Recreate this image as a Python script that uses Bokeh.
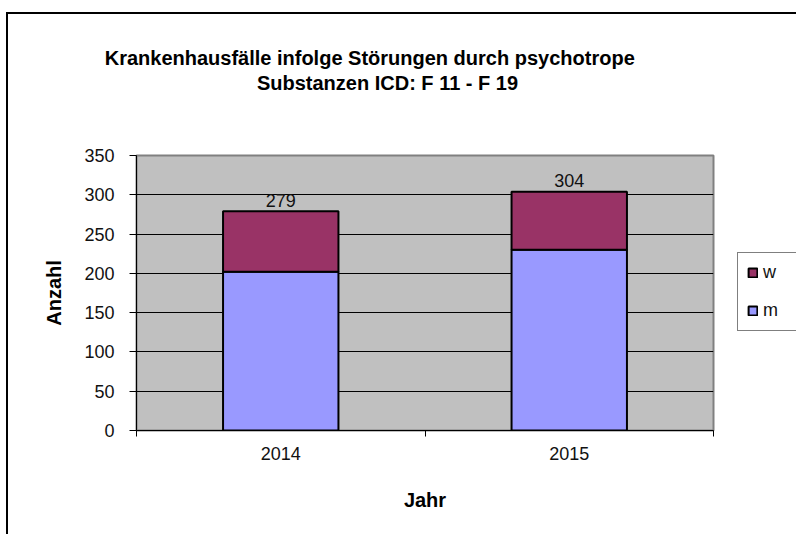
from bokeh.plotting import figure
from bokeh.models import FixedTicker, Legend, LegendItem, ColumnDataSource, Range1d
from bokeh.layouts import column, row
from bokeh.core.properties import value
from bokeh.embed import file_html
from bokeh.resources import INLINE

# ---- data ----
years = ["2014", "2015"]
m_values = [202, 230]
w_values = [77, 74]
series_names = ["m", "w"]
y_ticks = [0, 50, 100, 150, 200, 250, 300, 350]
title_lines = ["Krankenhausfälle  infolge Störungen durch psychotrope",
               "Substanzen ICD: F 11 - F 19"]
x_title = "Jahr"
y_title = "Anzahl"

# ---- layout constants (page pixels) ----
FONT = "Liberation Sans"
OX, OY = 8, 14                       # content origin on the page
RIGHT, BOTTOM = 796, 534             # content right / bottom on the page
TITLE_BOTTOM = 132                   # bottom of the title strip
MAIN_RIGHT = 721                     # right edge of the main chart canvas
FL, FT, FR, FB = 136, 155, 713, 430  # plot frame edges on the page
Y_MAX = 350
N = len(years)
COL_M, COL_W = "#9999FF", "#993366"

x_pos = [i + 0.5 for i in range(N)]
totals = [m + w for m, w in zip(m_values, w_values)]
src = ColumnDataSource(dict(x=x_pos, m=m_values, w=w_values, total=totals,
                            label=[str(t) for t in totals]))

# ---------- title strip ----------
tw, th = RIGHT - OX, TITLE_BOTTOM - OY
tfig = figure(width=tw, height=th, output_backend="svg", toolbar_location=None,
              x_range=Range1d(0, tw), y_range=Range1d(th, 0),
              x_axis_type=None, y_axis_type=None, min_border=0)
tfig.outline_line_color = None
tfig.grid.visible = False
tsrc = ColumnDataSource(dict(
    x=[372 - OX, 387 - OX], y=[57 - OY, 82 - OY], text=title_lines))
tfig.text(x="x", y="y", text="text", source=tsrc, text_align="center",
          text_baseline="alphabetic", text_font=value(FONT),
          text_font_size="20px", text_font_style="bold", text_color="black")

# ---------- main chart ----------
mw, mh = MAIN_RIGHT - OX, BOTTOM - TITLE_BOTTOM
p = figure(width=mw, height=mh, output_backend="svg", toolbar_location=None,
           x_range=Range1d(0, N), y_range=Range1d(0, Y_MAX),
           min_border_left=FL - OX, min_border_top=FT - TITLE_BOTTOM,
           min_border_right=MAIN_RIGHT - FR, min_border_bottom=BOTTOM - FB)
p.background_fill_color = "#C0C0C0"
p.border_fill_color = "white"
p.outline_line_color = "#808080"
p.outline_line_width = 2

bar_w = 0.4
rm = p.vbar(x="x", bottom=0, top="m", width=bar_w, source=src,
            fill_color=COL_M, line_color="black", line_width=2)
rw = p.vbar(x="x", bottom="m", top="total", width=bar_w, source=src,
            fill_color=COL_W, line_color="black", line_width=2)

p.text(x="x", y="total", text="label", source=src, y_offset=-11,
       text_align="center", text_baseline="alphabetic",
       text_font=value(FONT), text_font_size="18px", text_color="#111111")

p.yaxis.ticker = FixedTicker(ticks=y_ticks)
p.yaxis.major_tick_out = 7
p.yaxis.major_tick_in = 0
p.yaxis.minor_tick_out = 0
p.yaxis.minor_tick_in = 0
p.yaxis.major_label_standoff = 15
p.yaxis.axis_label = y_title
p.yaxis.axis_label_standoff = 16

p.xaxis.ticker = FixedTicker(ticks=x_pos, minor_ticks=list(range(N + 1)))
p.xaxis.major_label_overrides = {x: y for x, y in zip(x_pos, years)}
p.xaxis.major_tick_out = 0
p.xaxis.major_tick_in = 0
p.xaxis.minor_tick_out = 6
p.xaxis.minor_tick_in = 0
p.xaxis.major_label_standoff = 10
p.xaxis.axis_label = x_title
p.xaxis.axis_label_standoff = 26

for ax in (p.xaxis, p.yaxis):
    ax.axis_line_color = "black"
    ax.axis_line_width = 1
    ax.major_tick_line_color = "black"
    ax.minor_tick_line_color = "black"
    ax.major_label_text_font = FONT
    ax.major_label_text_font_size = "18px"
    ax.major_label_text_color = "#111111"
    ax.axis_label_text_font = FONT
    ax.axis_label_text_font_size = "20px"
    ax.axis_label_text_font_style = "bold"
    ax.axis_label_text_color = "black"

p.xgrid.visible = False
p.ygrid.ticker = FixedTicker(ticks=y_ticks)
p.ygrid.grid_line_color = "black"
p.ygrid.grid_line_width = 1

# ---------- legend strip ----------
lw, lh = RIGHT - MAIN_RIGHT, BOTTOM - TITLE_BOTTOM
lfig = figure(width=lw, height=lh, output_backend="svg", toolbar_location=None,
              x_range=Range1d(0, 1), y_range=Range1d(0, 1),
              x_axis_type=None, y_axis_type=None, min_border=0)
lfig.outline_line_color = None
lfig.grid.visible = False
# hidden proxies of the two series, only used to draw the legend swatches
lr_w = lfig.vbar(x="x", bottom="m", top="total", width=bar_w, source=src,
                 fill_color=COL_W, line_color="black", line_width=2,
                 visible=False)
lr_m = lfig.vbar(x="x", bottom=0, top="m", width=bar_w, source=src,
                 fill_color=COL_M, line_color="black", line_width=2,
                 visible=False)
legend = Legend(items=[LegendItem(label=series_names[1], renderers=[lr_w]),
                       LegendItem(label=series_names[0], renderers=[lr_m])],
                location=(737 - MAIN_RIGHT, FB - 331))
legend.glyph_width = 11
legend.glyph_height = 11
legend.label_height = 14
legend.label_width = 24
legend.label_standoff = 5
legend.spacing = 17
legend.padding = 9
legend.margin = 0
legend.border_line_color = "black"
legend.border_line_width = 1
legend.background_fill_color = "white"
legend.background_fill_alpha = 1
legend.inactive_fill_alpha = 0
legend.label_text_font = FONT
legend.label_text_font_size = "18px"
legend.label_text_color = "#111111"
lfig.add_layout(legend, "center")

layout = column(tfig, row(p, lfig, spacing=0), spacing=0)
layout.styles = {"border-left": "2px solid #000", "border-top": "2px solid #000",
                 "margin-left": f"{OX - 2}px", "margin-top": f"{OY - 2}px"}

open("out.html", "w").write(file_html(layout, INLINE))
